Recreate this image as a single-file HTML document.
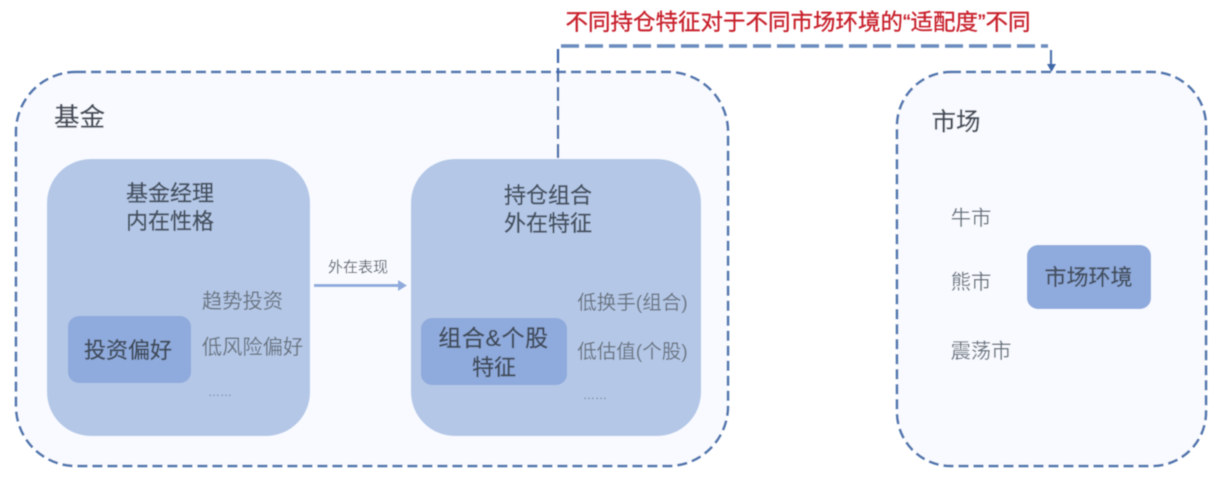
<!DOCTYPE html>
<html lang="zh">
<head>
<meta charset="utf-8">
<title>持仓特征与市场环境</title>
<style>
html,body{margin:0;padding:0;background:#fff}
svg{display:block;width:1227px;height:477px}
text{font-family:"Liberation Sans","Noto Sans CJK SC",sans-serif;text-anchor:middle}
.t{fill:#44505e;font-size:22px;stroke:#44505e;stroke-width:.35px}
.s{fill:#6b7480;font-size:20.300px}
</style>
</head>
<body>
<svg xmlns="http://www.w3.org/2000/svg" width="1227" height="477" viewBox="0 0 1227 477">
<defs><filter id="b" x="-5%" y="-5%" width="110%" height="110%"><feGaussianBlur stdDeviation="0.6"/></filter></defs>
<rect width="1227" height="477" fill="#fff"/>
<g filter="url(#b)">
<rect x="16" y="72" width="712" height="394" rx="60" fill="#f8faff" stroke="#4f74ad" stroke-width="2.500" stroke-dasharray="10 5"/>
<rect x="897" y="72" width="309" height="394" rx="54" fill="#f8faff" stroke="#4f74ad" stroke-width="2.500" stroke-dasharray="10 5"/>
<rect x="47" y="159" width="263" height="277" rx="44" fill="#b4c7e7"/>
<rect x="411" y="159" width="290" height="277" rx="44" fill="#b4c7e7"/>
<rect x="68" y="316" width="123" height="67" rx="11" fill="#8faadc"/>
<rect x="421" y="318" width="146" height="67" rx="11" fill="#8faadc"/>
<rect x="1027" y="245" width="124" height="64" rx="11" fill="#8faadc"/>
<path d="M558 158V47" fill="none" stroke="#3f67a8" stroke-width="2.300" stroke-dasharray="14 5"/>
<path d="M561 46H1048" fill="none" stroke="#6a8bbd" stroke-width="3.600" stroke-dasharray="18 6"/>
<path d="M1051 50V66" fill="none" stroke="#4f74ad" stroke-width="2.200"/>
<path d="M1047 64H1056L1051.500 72Z" fill="#3f67a8"/>
<path d="M314 285.500H399" stroke="#8faadc" stroke-width="3" fill="none"/>
<path d="M398 280L407 285.500L398 291Z" fill="#8faadc"/>
<text x="79.500" y="126" style="font-size:25.500px;fill:#444c58;stroke:#444c58;stroke-width:.35px">基金</text>
<text x="956" y="130" style="font-size:24.500px;fill:#444c58;stroke:#444c58;stroke-width:.35px">市场</text>
<text class="t" x="170" y="201">基金经理</text>
<text class="t" x="170" y="229">内在性格</text>
<text class="t" x="548" y="203">持仓组合</text>
<text class="t" x="548" y="231">外在特征</text>
<text class="t" x="128" y="358" style="fill:#3f4a59">投资偏好</text>
<text class="t" x="493.500" y="346" style="fill:#3f4a59;font-size:23px;letter-spacing:.6px">组合&amp;个股</text>
<text class="t" x="494" y="375" style="fill:#3f4a59">特征</text>
<text class="t" x="1088.500" y="285">市场环境</text>
<text class="s" x="242.500" y="308">趋势投资</text>
<text class="s" x="252.500" y="354">低风险偏好</text>
<text class="s" x="220" y="396" style="font-size:12px">……</text>
<text class="s" x="632.500" y="309" style="font-size:19.500px">低换手(组合)</text>
<text class="s" x="632.500" y="358" style="font-size:19.500px">低估值(个股)</text>
<text class="s" x="595" y="399" style="font-size:12px">……</text>
<text class="s" x="971" y="225">牛市</text>
<text class="s" x="971" y="289">熊市</text>
<text class="s" x="981" y="358">震荡市</text>
<text x="358" y="272" style="font-size:15px;fill:#5b6470">外在表现</text>
<text x="798" y="30" style="font-size:22.500px;fill:#c8202b;stroke:#c8202b;stroke-width:.3px">不同持仓特征对于不同市场环境的“适配度”不同</text>
</g>
</svg>
</body>
</html>
